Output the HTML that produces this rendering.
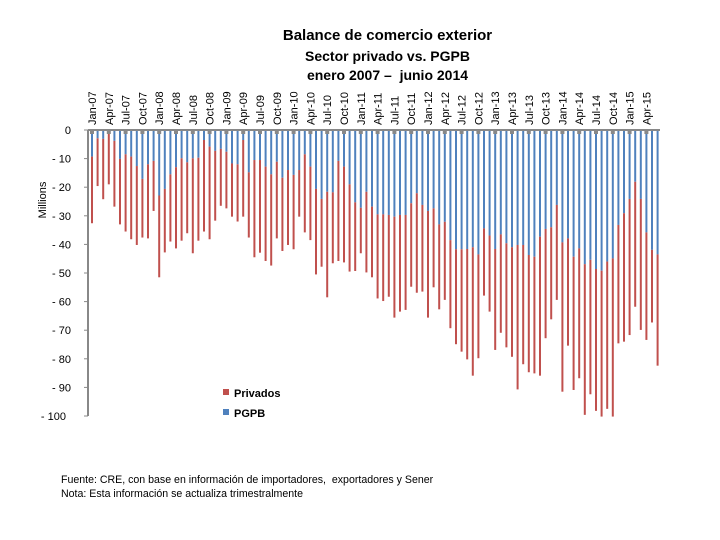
<!DOCTYPE html>
<html><head><meta charset="utf-8">
<style>
body{margin:0;background:#fff;font-family:"Liberation Sans",sans-serif;}
#wrap{position:relative;width:720px;height:540px;overflow:hidden;}
.t{position:absolute;white-space:nowrap;color:#000;}
</style></head>
<body>
<div id="wrap">
<div class="t" style="left:0;width:775px;text-align:center;top:27px;font-size:15px;font-weight:bold;">Balance de comercio exterior</div>
<div class="t" style="left:0;width:775px;text-align:center;top:48px;font-size:14px;font-weight:bold;">Sector privado vs. PGPB</div>
<div class="t" style="left:0;width:775px;text-align:center;top:67px;font-size:14px;font-weight:bold;">enero 2007 –&nbsp; junio 2014</div>
<div class="t" style="left:61px;top:474px;font-size:10.6px;">Fuente: CRE, con base en información de importadores,&nbsp; exportadores y Sener</div>
<div class="t" style="left:61px;top:488px;font-size:10.6px;">Nota: Esta información se actualiza trimestralmente</div>
<svg id="chart" width="720" height="540" style="position:absolute;left:0;top:0"></svg>
</div>
<script>
const months=["Jan","Feb","Mar","Apr","May","Jun","Jul","Aug","Sep","Oct","Nov","Dec"];
const pgpb=[9.3,2.9,3.1,0.6,3.8,10.1,8.5,9.3,12.6,17.1,12.0,10.8,22.9,20.6,15.5,13.0,9.9,11.3,9.9,9.7,3.5,5.8,7.3,6.6,7.6,11.7,12.0,3.5,14.8,10.5,10.5,12.8,15.5,11.1,16.7,14.0,15.7,14.0,8.5,12.8,20.6,24.1,21.6,21.8,10.8,12.8,19.0,25.3,27.2,21.6,26.8,29.5,29.5,29.7,30.3,29.7,29.7,25.6,22.1,26.2,28.3,27.4,33.0,32.1,38.5,41.7,41.7,41.6,41.0,43.5,34.4,36.9,41.6,36.5,39.6,41.0,40.2,40.2,43.7,44.3,37.3,34.6,34.0,26.2,39.3,37.9,44.3,41.4,46.9,45.4,48.6,49.2,46.0,44.9,33.2,29.1,24.1,18.1,24.1,35.8,41.9,43.5];
const privados=[23.3,16.7,21.1,18.4,23.0,22.9,27.0,28.9,27.6,20.5,25.9,17.5,28.6,22.2,23.5,28.4,28.8,24.8,33.2,29.0,32.0,32.4,24.4,19.9,19.8,18.6,20.0,26.8,22.8,34.0,32.4,33.0,31.9,26.8,25.6,26.2,26.0,16.3,27.3,25.7,29.9,23.7,36.9,24.8,35.0,33.5,30.5,24.0,15.9,28.2,24.7,29.4,30.3,28.6,35.3,33.8,33.2,29.2,34.8,30.3,37.3,27.6,29.7,27.3,30.8,33.2,35.8,38.6,44.9,36.3,23.5,26.6,35.3,34.4,36.4,38.3,50.5,41.7,41.0,40.8,48.6,38.2,32.2,33.2,52.2,37.5,46.6,45.4,52.7,47.0,49.6,51.0,51.5,55.3,41.4,44.9,47.6,43.7,45.8,37.6,25.4,38.9];
const yTicks=[0,-10,-20,-30,-40,-50,-60,-70,-80,-90,-100];
const NS="http://www.w3.org/2000/svg";
const svg=document.getElementById('chart');
const X0=92,DX=5.6,Y0=130,SY=2.86;
const xPos=i=>X0+i*DX;
const yPos=v=>Y0-v*SY;
function mk(tag,attrs){const e=document.createElementNS(NS,tag);for(const k in attrs)e.setAttribute(k,attrs[k]);svg.appendChild(e);return e;}
for(let i=0;i<pgpb.length;i++){
  const x=xPos(i);
  const b=mk('rect',{x:x-1,y:yPos(0),width:2,height:yPos(-pgpb[i])-yPos(0),fill:'#4f81bd'});
  
  
  const r=mk('rect',{x:x-1,y:yPos(-pgpb[i]),width:2,height:yPos(-pgpb[i]-privados[i])-yPos(-pgpb[i]),fill:'#c0504d'});
  
  
}
const ya=mk('line',{x1:88,y1:Y0,x2:88,y2:yPos(-100),stroke:'#888',"stroke-width":2});


const xa=mk('line',{x1:88,y1:Y0,x2:660,y2:Y0,stroke:'#888',"stroke-width":2});


yTicks.forEach(v=>{
  const tk=mk('line',{x1:84,y1:yPos(v),x2:88,y2:yPos(v),stroke:'#888'});
  
  
  const t=mk('text',{x:v===-100?66:71,y:yPos(v)+4,"text-anchor":"end","font-size":11,"font-family":"Liberation Sans, sans-serif"});
  t.textContent=v===0?'0':'- '+(-v);
  
  
});
for(let i=0;i<pgpb.length;i+=3){
  const x=xPos(i);
  const tk=mk('rect',{x:x-2,y:Y0,width:4,height:4,fill:'#888'});
  
  
  const lbl=months[i%12]+'-'+String(7+Math.floor(i/12)).padStart(2,'0');
  const t=mk('text',{x:0,y:0,transform:`translate(${x+4},125) rotate(-90)`,"font-size":11,"font-family":"Liberation Sans, sans-serif"});
  t.textContent=lbl;
  
  
}
const yt=mk('text',{x:0,y:0,transform:'translate(46,200) rotate(-90)',"text-anchor":"middle","font-size":11,"font-family":"Liberation Sans, sans-serif"});
yt.textContent='Millions';


const l1=mk('rect',{x:223,y:389,width:6,height:6,fill:'#c0504d'});


const lt1=mk('text',{x:234,y:397,"font-size":11,"font-weight":"bold","font-family":"Liberation Sans, sans-serif"});
lt1.textContent='Privados';


const l2=mk('rect',{x:223,y:409,width:6,height:6,fill:'#4f81bd'});


const lt2=mk('text',{x:234,y:417,"font-size":11,"font-weight":"bold","font-family":"Liberation Sans, sans-serif"});
lt2.textContent='PGPB';


</script>
</body></html>
